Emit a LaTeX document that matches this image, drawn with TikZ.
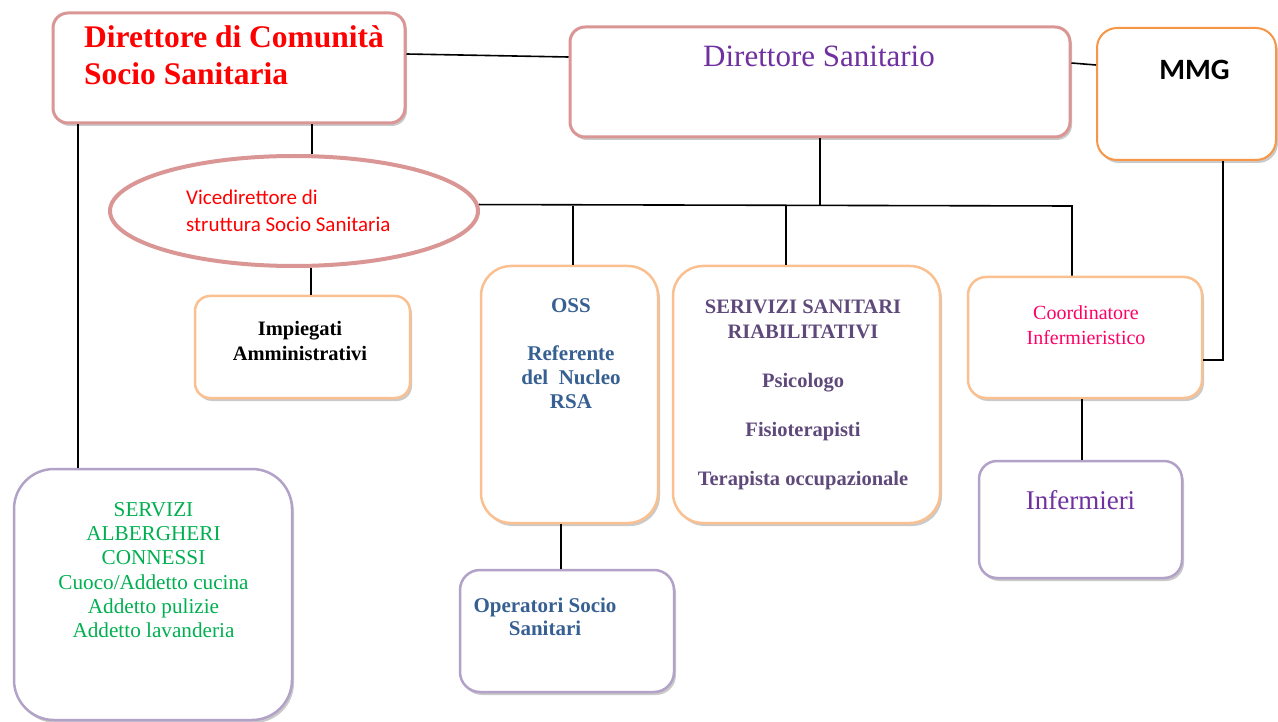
\documentclass[tikz,border=0pt]{standalone}
\usepackage{fontspec}
\setmainfont{Liberation Serif}
\newfontfamily\calibri{Carlito}
\usepackage{tikz}
\usetikzlibrary{positioning, shapes.geometric, shadows}

\definecolor{rose}{HTML}{D99694}
\definecolor{peach}{HTML}{FAC090}
\definecolor{mmgorange}{HTML}{F79646}
\definecolor{lilac}{HTML}{B3A2C7}
\definecolor{violetto}{HTML}{7030A0}
\definecolor{bluastro}{HTML}{376092}
\definecolor{prugna}{HTML}{5F497A}
\definecolor{fucsia}{HTML}{FF0066}
\definecolor{verde}{HTML}{00B050}

\begin{document}
\begin{tikzpicture}[
            x=1pt, y=-1pt,
            box/.style={draw, fill=white, rectangle, inner sep=0pt,
                drop shadow={shadow xshift=2pt, shadow yshift=-3pt, opacity=0.35, fill=black!60}},
            rosebox/.style={box, draw=rose, line width=3pt, rounded corners=15pt},
            peachbox/.style={box, draw=peach, line width=2.5pt},
            lilacbox/.style={box, draw=lilac, line width=2.5pt},
            txt/.style={inner sep=0pt, align=center},
            link/.style={draw=black, line width=1.6pt},
        ]
            \useasboundingbox (0,0) rectangle (1278,722);

            % boxes
            \node[rosebox, minimum width=352pt, minimum height=110pt] (dirCom) at (229,68) {};
            \node[rosebox, minimum width=500pt, minimum height=110pt] (dirSan) at (820,82) {};
            \node[box, draw=mmgorange, line width=2pt, rounded corners=20pt,
                minimum width=179pt, minimum height=132pt, drop shadow={opacity=0}] (mmg) at (1186.5,94) {};
            \node[ellipse, draw=rose, fill=white, line width=4pt, inner sep=0pt,
                minimum width=368pt, minimum height=110pt] (vice) at (294,211) {};
            \node[peachbox, rounded corners=15pt, minimum width=215pt, minimum height=102pt] (impieg) at (302.5,347) {};
            \node[peachbox, rounded corners=30pt, minimum width=177pt, minimum height=257pt] (oss) at (569.5,394.5) {};
            \node[peachbox, rounded corners=30pt, minimum width=267pt, minimum height=257pt] (riab) at (806.5,394.5) {};
            \node[peachbox, rounded corners=18pt, minimum width=234pt, minimum height=121pt] (coord) at (1085,337.5) {};
            \node[lilacbox, rounded corners=18pt, minimum width=203pt, minimum height=117pt] (inferm) at (1080.5,519.5) {};
            \node[lilacbox, rounded corners=20pt, minimum width=214pt, minimum height=122pt] (opSoc) at (567,631) {};
            \node[lilacbox, rounded corners=40pt, minimum width=278pt, minimum height=251pt] (albergh) at (153,594.5) {};

            % texts
            \node[txt, anchor=north west, align=left, text=red,
                font=\fontsize{31.5}{37.6}\selectfont\bfseries] (dirComTxt) at (84,25)
                {Direttore di Comunità\\Socio Sanitaria};
            \node[txt, anchor=base, text=violetto, font=\fontsize{31}{37}\selectfont] (dirSanTxt) at (819,67)
                {Direttore Sanitario};
            \node[txt, anchor=base, font=\fontsize{29.5}{34}\selectfont\calibri\bfseries] (mmgTxt) at (1194.5,80) {MMG};
            \node[txt, anchor=north west, align=left, text=red,
                font=\fontsize{21}{26.5}\selectfont\calibri] (viceTxt) at (186,190)
                {Vicedirettore di\\struttura Socio Sanitaria};
            \node[txt, anchor=north, font=\fontsize{20.5}{25}\selectfont\bfseries] (impiegTxt) at (300,321)
                {Impiegati\\Amministrativi};
            \node[txt, anchor=north, text=bluastro, font=\fontsize{21}{24.2}\selectfont\bfseries] (ossTxt) at (571,298)
                {OSS\\[24pt]Referente\\del~~Nucleo\\RSA};
            \node[txt, anchor=north, text=prugna, font=\fontsize{20.5}{24.5}\selectfont\bfseries] (riabTxt) at (803,300)
                {SERIVIZI SANITARI\\RIABILITATIVI\\[24.5pt]Psicologo\\[24.5pt]Fisioterapisti\\[24.5pt]Terapista occupazionale};
            \node[txt, anchor=north, text=fucsia, font=\fontsize{20}{24.7}\selectfont] (coordTxt) at (1086,305.5)
                {Coordinatore\\Infermieristico};
            \node[txt, anchor=base, text=violetto, font=\fontsize{27}{32}\selectfont] (infermTxt) at (1080.5,509.3) {Infermieri};
            \node[txt, anchor=north, text=bluastro, font=\fontsize{21}{23.5}\selectfont\bfseries] (opSocTxt) at (545,597.5)
                {Operatori Socio\\Sanitari};
            \node[txt, anchor=north, text=verde, font=\fontsize{21.2}{24.3}\selectfont] (alberghTxt) at (153.5,502)
                {SERVIZI\\ALBERGHERI\\CONNESSI\\Cuoco/Addetto cucina\\Addetto pulizie\\Addetto lavanderia};

            % connectors
            \coordinate (busR) at (1072,206);
            \draw[link] ([yshift=14pt]dirCom.east) -- ([yshift=25pt]dirSan.west);
            \draw[link] ([yshift=19pt]dirSan.east) -- ([yshift=29pt]mmg.west);
            \draw[link] ([xshift=83pt]dirCom.south) -- ([xshift=18pt]vice.north);
            \draw[link] ([xshift=-151pt]dirCom.south) -- ([xshift=-151pt]dirCom.south |- albergh.north);
            \draw[link] ([xshift=17pt]vice.south) -- ([xshift=17pt]vice.south |- impieg.north);
            \draw[link] (vice.2) -- (busR) -- (busR |- coord.north);
            \draw[link] (dirSan.south) -- (dirSan.south |- busR);
            \draw[link] ([xshift=3.5pt]oss.north) -- ([xshift=3.5pt]oss.north |- busR);
            \draw[link] ([xshift=-20.5pt]riab.north) -- ([xshift=-20.5pt]riab.north |- busR);
            \draw[link] ([xshift=36.5pt]mmg.south) |- ([yshift=-22.5pt]coord.east);
            \draw[link] ([xshift=-8.5pt]oss.south) -- ([xshift=-8.5pt]oss.south |- opSoc.north);
            \draw[link] ([xshift=-3pt]coord.south) -- ([xshift=-3pt]coord.south |- inferm.north);
        \end{tikzpicture}
\end{document}
